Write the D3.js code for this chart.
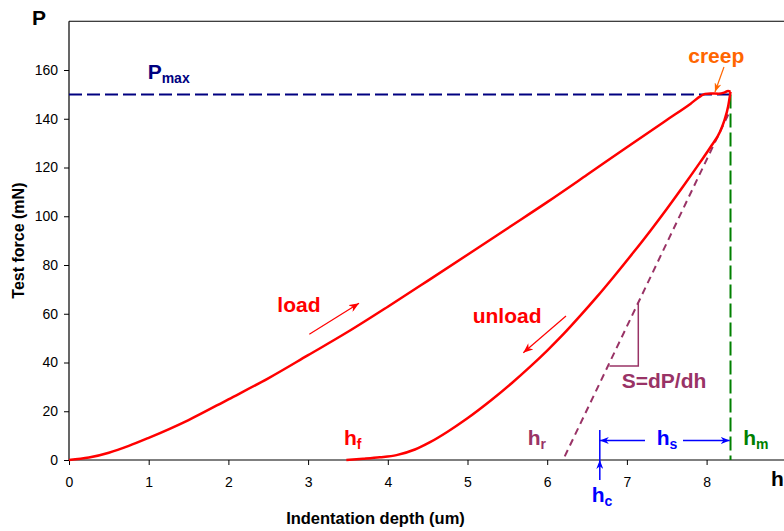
<!DOCTYPE html>
<html>
<head>
<meta charset="utf-8">
<script src="https://cdn.jsdelivr.net/npm/d3@7/dist/d3.min.js"></script>
<style>
    body { margin: 0; background: #fff; }
    svg { display: block; font-family: "Liberation Sans", Arial, sans-serif; }
</style>
</head>
<body>
<div id="chart"></div>
<script>
// loading branch, ends with the creep hold at Pmax
const loadDepth = [0, 0.25, 0.5, 0.75, 1, 1.5, 2, 2.5, 3, 3.5, 4, 4.5, 5, 5.5, 6, 6.5, 7, 7.5, 7.8, 7.93, 7.98, 8.05, 8.15, 8.22, 8.27, 8.3];
const loadForce = [0, 1.0, 3.0, 5.8, 9.1, 16.4, 24.9, 33.5, 43, 52.6, 62.9, 73.5, 84.2, 95, 105.8, 117, 128.3, 139.5, 146.2, 149.4, 150.2, 150.4, 150.3, 150.7, 151.4, 151];

// unloading branch (ordered by depth)
const unloadDepth = [3.48, 3.69, 3.9, 4.11, 4.34, 4.53, 4.75, 4.99, 5.3, 5.55, 5.78, 6.0, 6.2, 6.41, 6.62, 6.83, 7.08, 7.3, 7.5, 7.7, 7.92, 8.05, 8.17, 8.22, 8.27, 8.3];
const unloadForce = [0, 0.5, 1.1, 2.0, 4.3, 7.3, 11.6, 16.9, 24.6, 31.4, 38.1, 44.9, 51.5, 59, 66.8, 75, 85.1, 94.3, 103, 112, 122.2, 128.4, 134.8, 139, 145, 151];

// tangent at the start of unloading (contact stiffness)
const tangentDepth = [6.22, 8.29];
const tangentForce = [1.5, 143];

const xTicks = [0, 1, 2, 3, 4, 5, 6, 7, 8];
const yTicks = [0, 20, 40, 60, 80, 100, 120, 140, 160];

const pMax = 150;
const hMax = 8.3;
const hC = 6.66;

const width = 784, height = 531;
const red = '#ff0000', navy = '#000080', green = '#008000', blue = '#0000ff', purple = '#993366', orange = '#ff6600';

const svg = d3.select('#chart').append('svg')
    .attr('width', width)
    .attr('height', height);

const x = d3.scaleLinear().domain([0, 9]).range([69, 786.3]);
const y = d3.scaleLinear().domain([0, 180]).range([460, 21.25]);

// arrow heads
const defs = svg.append('defs');
function marker(id, color, len, wid) {
    defs.append('marker')
        .attr('id', id)
        .attr('viewBox', `0 ${-wid / 2} ${len} ${wid}`)
        .attr('refX', len)
        .attr('refY', 0)
        .attr('markerUnits', 'userSpaceOnUse')
        .attr('markerWidth', len)
        .attr('markerHeight', wid)
        .attr('orient', 'auto')
        .append('path')
        .attr('d', `M0,${-wid / 2}L${len},0L0,${wid / 2}L${len * 0.3},0Z`)
        .attr('fill', color);
}
marker('arRed', red, 10, 8);
marker('arOrange', orange, 9, 7);
marker('arBlue', blue, 9, 7);

// plot frame top
svg.append('line')
    .attr('x1', x(0)).attr('x2', x(9))
    .attr('y1', y(180)).attr('y2', y(180))
    .attr('stroke', '#000').attr('stroke-width', 1);

// axes
const xAxis = svg.append('g')
    .attr('transform', `translate(0,${y(0)})`)
    .call(d3.axisBottom(x).tickValues(xTicks).tickSize(5).tickPadding(12).tickFormat(d3.format('d')));
const yAxis = svg.append('g')
    .attr('transform', `translate(${x(0)},0)`)
    .call(d3.axisLeft(y).tickValues(yTicks).tickSize(5).tickPadding(6).tickFormat(d3.format('d')));

[xAxis, yAxis].forEach(function (a) {
    a.select('.domain').attr('stroke', '#000').attr('stroke-width', 1.2);
    a.selectAll('line').attr('stroke', '#000');
    a.selectAll('text').attr('font-size', 14).attr('fill', '#000')
        .attr('font-family', '"Liberation Sans", Arial, sans-serif');
});
xAxis.select('.domain').attr('d', `M${x(0)},0H${width}`);
yAxis.select('.domain').attr('d', `M0,${y(0)}V${y(180)}`);

// axis titles
svg.append('text')
    .attr('x', 375.5).attr('y', 524)
    .attr('text-anchor', 'middle')
    .attr('font-size', 16.5).attr('font-weight', 'bold')
    .text('Indentation depth (um)');
svg.append('text')
    .attr('transform', `translate(24,${(y(0) + y(180)) / 2}) rotate(-90)`)
    .attr('text-anchor', 'middle')
    .attr('font-size', 16).attr('font-weight', 'bold')
    .text('Test force (mN)');

svg.append('text').attr('x', 32).attr('y', 25)
    .attr('font-size', 21).attr('font-weight', 'bold').text('P');
svg.append('text').attr('x', 771).attr('y', 486)
    .attr('font-size', 21).attr('font-weight', 'bold').text('h');

// reference lines
svg.append('line')
    .attr('x1', x(0)).attr('x2', x(hMax))
    .attr('y1', y(pMax)).attr('y2', y(pMax))
    .attr('stroke', navy).attr('stroke-width', 2)
    .attr('stroke-dasharray', '13,5');
svg.append('line')
    .attr('x1', x(hMax)).attr('x2', x(hMax))
    .attr('y1', y(pMax)).attr('y2', y(0))
    .attr('stroke', green).attr('stroke-width', 2)
    .attr('stroke-dasharray', '14,5');

// tangent line S = dP/dh
svg.append('line')
    .attr('x1', x(tangentDepth[0])).attr('y1', y(tangentForce[0]))
    .attr('x2', x(tangentDepth[1])).attr('y2', y(tangentForce[1]))
    .attr('stroke', purple).attr('stroke-width', 2)
    .attr('stroke-dasharray', '7,5');

// slope triangle
svg.append('path')
    .attr('d', `M${x(6.78)},${y(38.6)}H${x(7.143)}V${y(64.5)}`)
    .attr('fill', 'none').attr('stroke', purple).attr('stroke-width', 1.5);

// curves
const line = d3.line()
    .x(d => x(d[0]))
    .y(d => y(d[1]))
    .curve(d3.curveMonotoneX);

svg.append('path')
    .datum(d3.zip(loadDepth, loadForce))
    .attr('d', line)
    .attr('fill', 'none').attr('stroke', red).attr('stroke-width', 2.5);
svg.append('path')
    .datum(d3.zip(unloadDepth, unloadForce))
    .attr('d', line)
    .attr('fill', 'none').attr('stroke', red).attr('stroke-width', 2.5);

// hc arrow and hs dimension
svg.append('line')
    .attr('x1', x(hC)).attr('x2', x(hC))
    .attr('y1', y(0)).attr('y2', y(12.3))
    .attr('stroke', blue).attr('stroke-width', 1.5);
svg.append('line')
    .attr('x1', x(hC)).attr('x2', x(hC))
    .attr('y1', y(-8.2)).attr('y2', y(0))
    .attr('stroke', blue).attr('stroke-width', 1.5)
    .attr('marker-end', 'url(#arBlue)');
svg.append('line')
    .attr('x1', x(7.227)).attr('x2', x(hC))
    .attr('y1', y(8)).attr('y2', y(8))
    .attr('stroke', blue).attr('stroke-width', 1.5)
    .attr('marker-end', 'url(#arBlue)');
svg.append('line')
    .attr('x1', x(7.704)).attr('x2', x(hMax - 0.01))
    .attr('y1', y(8)).attr('y2', y(8))
    .attr('stroke', blue).attr('stroke-width', 1.5)
    .attr('marker-end', 'url(#arBlue)');

// direction arrows
function arrow(h1, p1, h2, p2, color, id) {
    svg.append('line')
        .attr('x1', x(h1)).attr('y1', y(p1))
        .attr('x2', x(h2)).attr('y2', y(p2))
        .attr('stroke', color).attr('stroke-width', 1.2)
        .attr('marker-end', `url(#${id})`);
}
arrow(3.015, 51.6, 3.639, 64.3, red, 'arRed');
arrow(6.236, 59.1, 5.70, 44.0, red, 'arRed');
arrow(8.218, 161.2, 8.105, 151.0, orange, 'arOrange');

// labels
function label(h, p, main, sub, color) {
    const t = svg.append('text')
        .attr('x', x(h)).attr('y', y(p))
        .attr('font-size', 21).attr('font-weight', 'bold')
        .attr('fill', color);
    t.append('tspan').text(main);
    if (sub) t.append('tspan').attr('font-size', 14).attr('dy', 4).text(sub);
}
label(0.987, 156.2, 'P', 'max', navy);
label(7.77, 162.7, 'creep', null, orange);
label(2.614, 60.6, 'load', null, red);
label(5.065, 56.1, 'unload', null, red);
label(6.935, 29.4, 'S=dP/dh', null, purple);
label(3.45, 6.15, 'h', 'f', red);
label(5.755, 6.15, 'h', 'r', purple);
label(7.374, 6.15, 'h', 's', blue);
label(8.46, 6.15, 'h', 'm', green);
label(6.558, -17.1, 'h', 'c', blue);
</script>
</body>
</html>
